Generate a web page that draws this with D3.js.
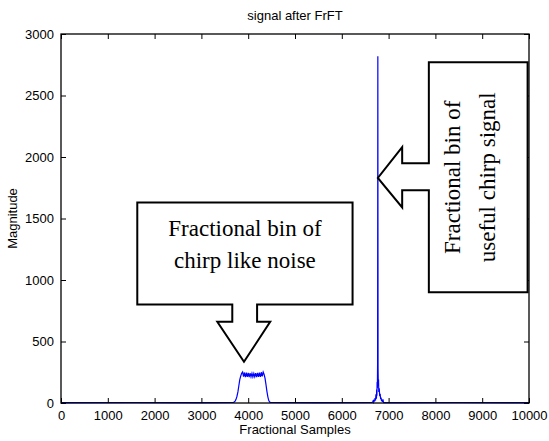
<!DOCTYPE html>
<html>
<head>
<meta charset="utf-8">
<script src="https://cdn.jsdelivr.net/npm/d3@7"></script>
<style>
  html, body { margin: 0; padding: 0; background: #fff; }
  svg { display: block; }
</style>
</head>
<body>
<svg id="chart" width="549" height="441"></svg>
<script>
// FrFT magnitude: flat floor, chirp-like noise plateau, and the useful chirp spike
const xTicks = [0, 1000, 2000, 3000, 4000, 5000, 6000, 7000, 8000, 9000, 10000];
const yTicks = [0, 500, 1000, 1500, 2000, 2500, 3000];

const floorX   = [0, 1500, 3000, 3690, 4470, 5500, 6640, 6910, 8500, 10000];
const floorMag = [3, 4, 3, 4, 4, 3, 4, 3, 4, 3];

const noiseX   = [3700, 3720, 3740, 3760, 3780, 3800, 3820, 3840, 3860, 3880, 3900, 3920, 3940, 3960, 3980,
                  4000, 4020, 4040, 4060, 4080, 4100, 4120, 4140, 4160, 4180, 4200, 4220, 4240, 4260, 4280,
                  4300, 4320, 4340, 4360, 4380, 4400, 4420, 4440, 4460];
const noiseMag = [8, 15, 30, 55, 90, 140, 190, 218, 242, 252, 214, 248, 210, 246, 212, 244, 211, 243,
                  213, 241, 212, 240, 214, 243, 211, 245, 213, 247, 212, 250, 216, 252, 232, 200, 150,
                  95, 50, 20, 8];

const chirpX   = [6650, 6660, 6670, 6680, 6690, 6700, 6710, 6720, 6730, 6740, 6745, 6750, 6755, 6760,
                  6765, 6770, 6775, 6780, 6785, 6790, 6800, 6810, 6820, 6830, 6840, 6850, 6860, 6870,
                  6880, 6890, 6900];
const chirpMag = [5, 10, 18, 8, 26, 12, 40, 20, 70, 35, 110, 60, 170, 120, 330, 2820, 280, 140, 190,
                  90, 120, 55, 75, 30, 45, 15, 28, 10, 30, 5, 3];

const svg = d3.select("#chart");
const plot = { left: 61, right: 529, top: 34, bottom: 403 };

const x = d3.scaleLinear().domain([0, 10000]).range([plot.left, plot.right]);
const y = d3.scaleLinear().domain([0, 3000]).range([plot.bottom, plot.top]);

const axisFont = "'Liberation Sans', Arial, sans-serif";
const axisSize = 13;

// merge segments into one ordered trace
const points = [];
floorX.forEach((v, i) => points.push([v, floorMag[i]]));
noiseX.forEach((v, i) => points.push([v, noiseMag[i]]));
chirpX.forEach((v, i) => points.push([v, chirpMag[i]]));
points.sort((a, b) => a[0] - b[0]);

const line = d3.line().x(d => x(d[0])).y(d => y(d[1]));

svg.append("path")
  .datum(points)
  .attr("d", line)
  .attr("fill", "none")
  .attr("stroke", "#0000ff")
  .attr("stroke-width", 1.2);

// axes with inward ticks, mirrored on top and right
const tickLen = 5;
const gx = svg.append("g").attr("transform", `translate(0,${plot.bottom})`)
  .call(d3.axisBottom(x).tickValues(xTicks).tickSizeInner(-tickLen).tickSizeOuter(0).tickPadding(8).tickFormat(d3.format("d")));
const gxt = svg.append("g").attr("transform", `translate(0,${plot.top})`)
  .call(d3.axisTop(x).tickValues(xTicks).tickSizeInner(-tickLen).tickSizeOuter(0).tickFormat(""));
const gy = svg.append("g").attr("transform", `translate(${plot.left},0)`)
  .call(d3.axisLeft(y).tickValues(yTicks).tickSizeInner(-tickLen).tickSizeOuter(0).tickPadding(7).tickFormat(d3.format("d")));
const gyr = svg.append("g").attr("transform", `translate(${plot.right},0)`)
  .call(d3.axisRight(y).tickValues(yTicks).tickSizeInner(-tickLen).tickSizeOuter(0).tickFormat(""));

[gx, gxt, gy, gyr].forEach(g => {
  g.select(".domain").remove();
  g.selectAll(".tick line").attr("stroke", "#000").attr("stroke-width", 1);
  g.selectAll("text").attr("font-family", axisFont).attr("font-size", axisSize).attr("fill", "#000");
});

svg.append("rect")
  .attr("x", plot.left).attr("y", plot.top)
  .attr("width", plot.right - plot.left).attr("height", plot.bottom - plot.top)
  .attr("fill", "none").attr("stroke", "#000").attr("stroke-width", 1.3);

// titles
svg.append("text").attr("x", (plot.left + plot.right) / 2).attr("y", 20)
  .attr("text-anchor", "middle").attr("font-family", axisFont).attr("font-size", axisSize)
  .text("signal after FrFT");
svg.append("text").attr("x", (plot.left + plot.right) / 2).attr("y", 434)
  .attr("text-anchor", "middle").attr("font-family", axisFont).attr("font-size", axisSize)
  .text("Fractional Samples");
svg.append("text").attr("transform", `translate(17,${(plot.top + plot.bottom) / 2}) rotate(-90)`)
  .attr("text-anchor", "middle").attr("font-family", axisFont).attr("font-size", axisSize)
  .text("Magnitude");

// callout shapes, placed in data coordinates
const serif = "'Liberation Serif', 'Times New Roman', serif";
const calloutSize = 23;

// downward callout pointing at the noise plateau
const c1 = { x0: 1630, x1: 6230, yTop: 1630, yBot: 800, stemL: 3660, stemR: 4190, stemBot: 660,
             headL: 3340, headR: 4470, tipX: 3910, tipY: 335 };
const c1pts = [
  [c1.x0, c1.yTop], [c1.x1, c1.yTop], [c1.x1, c1.yBot], [c1.stemR, c1.yBot], [c1.stemR, c1.stemBot],
  [c1.headR, c1.stemBot], [c1.tipX, c1.tipY], [c1.headL, c1.stemBot], [c1.stemL, c1.stemBot],
  [c1.stemL, c1.yBot], [c1.x0, c1.yBot]
];
svg.append("path")
  .attr("d", d3.line().x(d => x(d[0])).y(d => y(d[1])).curve(d3.curveLinearClosed)(c1pts))
  .attr("fill", "#fff").attr("stroke", "#000").attr("stroke-width", 2);

const c1cx = x((c1.x0 + c1.x1) / 2);
svg.append("text").attr("x", c1cx).attr("y", 236).attr("text-anchor", "middle")
  .attr("font-family", serif).attr("font-size", calloutSize).text("Fractional bin of");
svg.append("text").attr("x", c1cx).attr("y", 268).attr("text-anchor", "middle")
  .attr("font-family", serif).attr("font-size", calloutSize).text("chirp like noise");

// leftward callout pointing at the chirp spike
const c2 = { x0: 7860, x1: 9970, yTop: 2770, yBot: 900, stemTop: 1950, stemBot: 1730, stemL: 7290,
             headTop: 2080, headBot: 1590, tipX: 6770, tipY: 1830 };
const c2pts = [
  [c2.x0, c2.yTop], [c2.x1, c2.yTop], [c2.x1, c2.yBot], [c2.x0, c2.yBot], [c2.x0, c2.stemBot],
  [c2.stemL, c2.stemBot], [c2.stemL, c2.headBot], [c2.tipX, c2.tipY], [c2.stemL, c2.headTop],
  [c2.stemL, c2.stemTop], [c2.x0, c2.stemTop]
];
svg.append("path")
  .attr("d", d3.line().x(d => x(d[0])).y(d => y(d[1])).curve(d3.curveLinearClosed)(c2pts))
  .attr("fill", "#fff").attr("stroke", "#000").attr("stroke-width", 2);

const c2cy = y((c2.yTop + c2.yBot) / 2);
svg.append("text").attr("transform", `translate(460,${c2cy}) rotate(-90)`).attr("text-anchor", "middle")
  .attr("font-family", serif).attr("font-size", calloutSize).text("Fractional bin of");
svg.append("text").attr("transform", `translate(495,${c2cy}) rotate(-90)`).attr("text-anchor", "middle")
  .attr("font-family", serif).attr("font-size", calloutSize).text("useful chirp signal");
</script>
</body>
</html>
